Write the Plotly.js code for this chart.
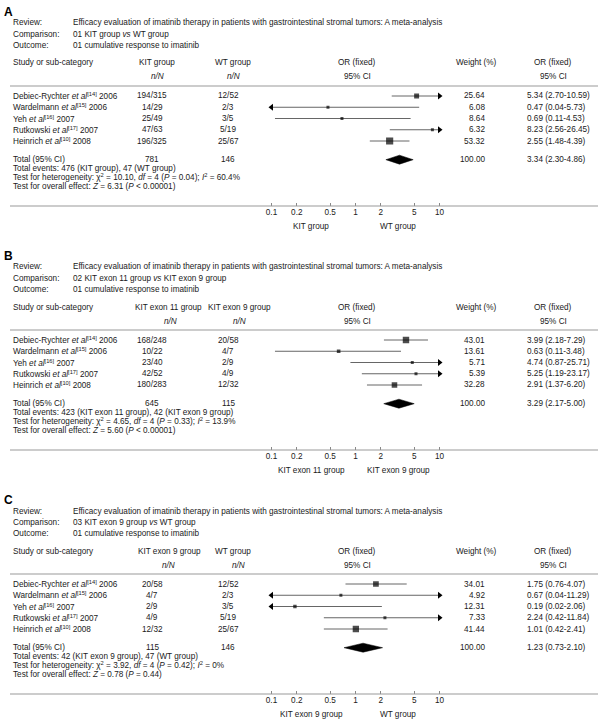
<!DOCTYPE html>
<html><head><meta charset="utf-8">
<script src="https://cdn.plot.ly/plotly-3.0.1.min.js"></script>
<style>html,body{margin:0;padding:0;background:#fff}</style>
</head><body>
<div id="chart" style="width:605px;height:725px"></div>
<script>
// ---------- DATA ----------
const panelLetters = ['A', 'B', 'C'];
const reviewTitle = 'Efficacy evaluation of imatinib therapy in patients with gastrointestinal stromal tumors: A meta-analysis';
const comparisons = ['01 KIT group <i>vs</i> WT group', '02 KIT exon 11 group <i>vs</i> KIT exon 9 group', '03 KIT exon 9 group <i>vs</i> WT group'];
const outcome = '01 cumulative response to imatinib';
const group1 = ['KIT group', 'KIT exon 11 group', 'KIT exon 9 group'];
const group2 = ['WT group', 'KIT exon 9 group', 'WT group'];

const studyAuthors = ['Debiec-Rychter', 'Wardelmann', 'Yeh', 'Rutkowski', 'Heinrich'];
const studyRefs = [14, 15, 16, 17, 10];
const studyYears = [2006, 2006, 2007, 2007, 2008];

// Panel A
const aN1 = ['194/315', '14/29', '25/49', '47/63', '196/325'];
const aN2 = ['12/52', '2/3', '3/5', '5/19', '25/67'];
const aWeight = [25.64, 6.08, 8.64, 6.32, 53.32];
const aOR = [5.34, 0.47, 0.69, 8.23, 2.55];
const aLo = [2.70, 0.04, 0.11, 2.56, 1.48];
const aHi = [10.59, 5.73, 4.53, 26.45, 4.39];
// Panel B
const bN1 = ['168/248', '10/22', '23/40', '42/52', '180/283'];
const bN2 = ['20/58', '4/7', '2/9', '4/9', '12/32'];
const bWeight = [43.01, 13.61, 5.71, 5.39, 32.28];
const bOR = [3.99, 0.63, 4.74, 5.25, 2.91];
const bLo = [2.18, 0.11, 0.87, 1.19, 1.37];
const bHi = [7.29, 3.48, 25.71, 23.17, 6.20];
// Panel C
const cN1 = ['20/58', '4/7', '2/9', '4/9', '12/32'];
const cN2 = ['12/52', '2/3', '3/5', '5/19', '25/67'];
const cWeight = [34.01, 4.92, 12.31, 7.33, 41.44];
const cOR = [1.75, 0.67, 0.19, 2.24, 1.01];
const cLo = [0.76, 0.04, 0.02, 0.42, 0.42];
const cHi = [4.07, 11.29, 2.06, 11.84, 2.41];

// Totals
const totalN1 = [781, 645, 115];
const totalN2 = [146, 115, 146];
const totalOR = [3.34, 3.29, 1.23];
const totalLo = [2.30, 2.17, 0.73];
const totalHi = [4.86, 5.00, 2.10];
const events1 = [476, 423, 42];
const events2 = [47, 42, 47];
const hetChi = ['10.10', '4.65', '3.92'];
const hetDf = [4, 4, 4];
const hetP = ['0.04', '0.33', '0.42'];
const hetI2 = ['60.4%', '13.9%', '0%'];
const zVal = ['6.31', '5.60', '0.78'];
const zP = ['&lt; 0.00001', '&lt; 0.00001', '= 0.44'];

const axisTicks = [0.1, 0.2, 0.5, 1, 2, 5, 10];
const axisTickText = ['0.1', '0.2', '0.5', '1', '2', '5', '10'];

// ---------- LAYOUT HELPERS ----------
const W = 605, H = 725;
const FONT = 'Liberation Sans, Arial, sans-serif';
const FS = 8.2;
const TXT = '#1a1a1a';
const px = v => v / W;
const py = v => 1 - v / H;
const panelOffsets = [0, 244, 488];
const head1X = [157, 168, 169], head2X = [233, 239, 233];
const nn1X = [157, 170, 168], nn2X = [233, 239, 238];
const ROW0 = 96, ROWH = 11.25;
const rowOf = pxY => (pxY - ROW0) / ROWH;

const panelData = [
  {n1: aN1, n2: aN2, w: aWeight, or: aOR, lo: aLo, hi: aHi},
  {n1: bN1, n2: bN2, w: bWeight, or: bOR, lo: bLo, hi: bHi},
  {n1: cN1, n2: cN2, w: cWeight, or: cOR, lo: cLo, hi: cHi}
];

const traces = [];
const annotations = [];
const shapes = [];
const layout = {
  width: W, height: H,
  margin: {l: 0, r: 0, t: 0, b: 0},
  paper_bgcolor: '#fff', plot_bgcolor: 'rgba(0,0,0,0)',
  showlegend: false,
  font: {family: FONT, size: FS, color: TXT},
  annotations: annotations, shapes: shapes
};

function txt(x, y, text, anchor, extra) {
  const a = Object.assign({
    x: x, y: y, xref: 'paper', yref: 'paper', text: text,
    showarrow: false, xanchor: anchor || 'left', yanchor: 'middle',
    font: {family: FONT, size: FS, color: TXT}, borderpad: 0
  }, extra || {});
  annotations.push(a);
}

const fmt = v => v.toFixed(2);
const LMIN = 0.1, LMAX = 10;
const TOP_LINE = 86, AXIS_LINE = 206;

panelData.forEach((d, k) => {
  const off = panelOffsets[k];
  const s = k === 0 ? '' : String(k + 1);
  const xa = 'x' + s, ya = 'y' + s;

  layout['xaxis' + s] = {
    type: 'log', range: [-1.2, 1.2],
    domain: [px(355.5 - 100.8), px(355.5 + 100.8)],
    anchor: ya, tickvals: axisTicks, ticktext: axisTickText,
    ticks: 'inside', ticklen: 3, tickcolor: '#888', tickwidth: 1,
    showline: false, showgrid: false, zeroline: false,
    tickfont: {family: FONT, size: FS, color: TXT}, fixedrange: true
  };
  layout['yaxis' + s] = {
    domain: [py(AXIS_LINE + off), py(TOP_LINE + off)],
    range: [rowOf(AXIS_LINE), rowOf(TOP_LINE)],
    anchor: xa, visible: false, fixedrange: true
  };

  // separator lines
  shapes.push({type: 'line', xref: 'paper', yref: 'paper', x0: px(10), x1: px(598), y0: py(TOP_LINE + off), y1: py(TOP_LINE + off), line: {color: '#999', width: 1}});
  shapes.push({type: 'line', xref: 'paper', yref: 'paper', x0: px(10), x1: px(598), y0: py(AXIS_LINE + off), y1: py(AXIS_LINE + off), line: {color: '#999', width: 1}});
  // line of no effect (OR = 1 -> log10 = 0)
  shapes.push({type: 'line', xref: xa, yref: ya + ' domain', x0: 0, x1: 0, y0: 0, y1: 1, line: {color: '#888', width: 1}});

  const rows = d.or.map((_, i) => i);
  // CI lines (clipped to displayed range) with arrows where they run off-scale
  const lx = [], ly = [], rax = [], ray = [], lax = [], lay = [];
  d.or.forEach((_, i) => {
    lx.push(Math.max(d.lo[i], LMIN), Math.min(d.hi[i], LMAX), null);
    ly.push(i, i, null);
    if (d.hi[i] > LMAX) { rax.push(LMAX); ray.push(i); }
    if (d.lo[i] < LMIN) { lax.push(LMIN); lay.push(i); }
  });
  traces.push({x: lx, y: ly, xaxis: xa, yaxis: ya, mode: 'lines', line: {color: '#666', width: 1}, hoverinfo: 'skip'});
  traces.push({x: rax, y: ray, xaxis: xa, yaxis: ya, mode: 'markers', marker: {symbol: 'triangle-right', size: 6, color: '#000'}, cliponaxis: false, hoverinfo: 'skip'});
  traces.push({x: lax, y: lay, xaxis: xa, yaxis: ya, mode: 'markers', marker: {symbol: 'triangle-left', size: 6, color: '#000'}, cliponaxis: false, hoverinfo: 'skip'});
  // weight squares
  traces.push({x: d.or, y: rows, xaxis: xa, yaxis: ya, mode: 'markers',
    marker: {symbol: 'square', color: '#000', size: d.w.map(w => Math.max(3, Math.sqrt(w) * 0.98)), line: {width: 0}}, hoverinfo: 'skip'});
  // pooled diamond
  const tr = rowOf(159.7), hh = 0.4;
  traces.push({x: [totalLo[k], totalOR[k], totalHi[k], totalOR[k], totalLo[k]], y: [tr, tr - hh, tr, tr + hh, tr],
    xaxis: xa, yaxis: ya, mode: 'lines', fill: 'toself', fillcolor: '#000', line: {color: '#000', width: 0.5}, hoverinfo: 'skip'});

  // header texts
  txt(px(3), py(12 + off), '<b>' + panelLetters[k] + '</b>', 'left', {font: {family: FONT, size: 12, color: '#000'}});
  txt(px(12), py(23 + off), 'Review:');
  txt(px(72), py(23 + off), reviewTitle);
  txt(px(12), py(34 + off), 'Comparison:');
  txt(px(72), py(34 + off), comparisons[k]);
  txt(px(12), py(45 + off), 'Outcome:');
  txt(px(72), py(45 + off), outcome);
  txt(px(12), py(63 + off), 'Study or sub-category');
  txt(px(head1X[k]), py(63 + off), group1[k], 'center');
  txt(px(head2X[k]), py(63 + off), group2[k], 'center');
  txt(px(nn1X[k]), py(77 + off), '<i>n/N</i>', 'center');
  txt(px(nn2X[k]), py(77 + off), '<i>n/N</i>', 'center');
  txt(px(357), py(63 + off), 'OR (fixed)', 'center');
  txt(px(357), py(77 + off), '95% CI', 'center');
  txt(px(476), py(63 + off), 'Weight (%)', 'center');
  txt(px(553), py(63 + off), 'OR (fixed)', 'center');
  txt(px(553), py(77 + off), '95% CI', 'center');

  // study rows
  rows.forEach(i => {
    const yy = py(ROW0 + ROWH * i + off);
    txt(px(12), yy, studyAuthors[i] + ' <i>et al</i><sup>[' + studyRefs[i] + ']</sup> ' + studyYears[i]);
    txt(px(152), yy, d.n1[i], 'center');
    txt(px(228), yy, d.n2[i], 'center');
    txt(px(486), yy, fmt(d.w[i]), 'right');
    txt(px(526), yy, fmt(d.or[i]) + ' (' + fmt(d.lo[i]) + '-' + fmt(d.hi[i]) + ')');
  });
  // totals
  const ty = py(159.7 + off);
  txt(px(12), ty, 'Total (95% CI)');
  txt(px(152), ty, String(totalN1[k]), 'center');
  txt(px(228), ty, String(totalN2[k]), 'center');
  txt(px(486), ty, '100.00', 'right');
  txt(px(526), ty, fmt(totalOR[k]) + ' (' + fmt(totalLo[k]) + '-' + fmt(totalHi[k]) + ')');
  txt(px(12), py(168.3 + off), 'Total events: ' + events1[k] + ' (' + group1[k] + '), ' + events2[k] + ' (' + group2[k] + ')');
  txt(px(12), py(177 + off), 'Test for heterogeneity: χ<sup>2</sup> = ' + hetChi[k] + ', <i>df</i> = ' + hetDf[k] + ' (<i>P</i> = ' + hetP[k] + '); <i>I</i><sup>2</sup> = ' + hetI2[k]);
  txt(px(12), py(186 + off), 'Test for overall effect: <i>Z</i> = ' + zVal[k] + ' (<i>P</i> ' + zP[k] + ')');

  // axis group labels
  txt(px(311), py(226.5 + off), group1[k], 'center');
  txt(px(398), py(226.5 + off), group2[k], 'center');
});

Plotly.newPlot('chart', traces, layout, {displayModeBar: false, staticPlot: true});
</script>
</body></html>
